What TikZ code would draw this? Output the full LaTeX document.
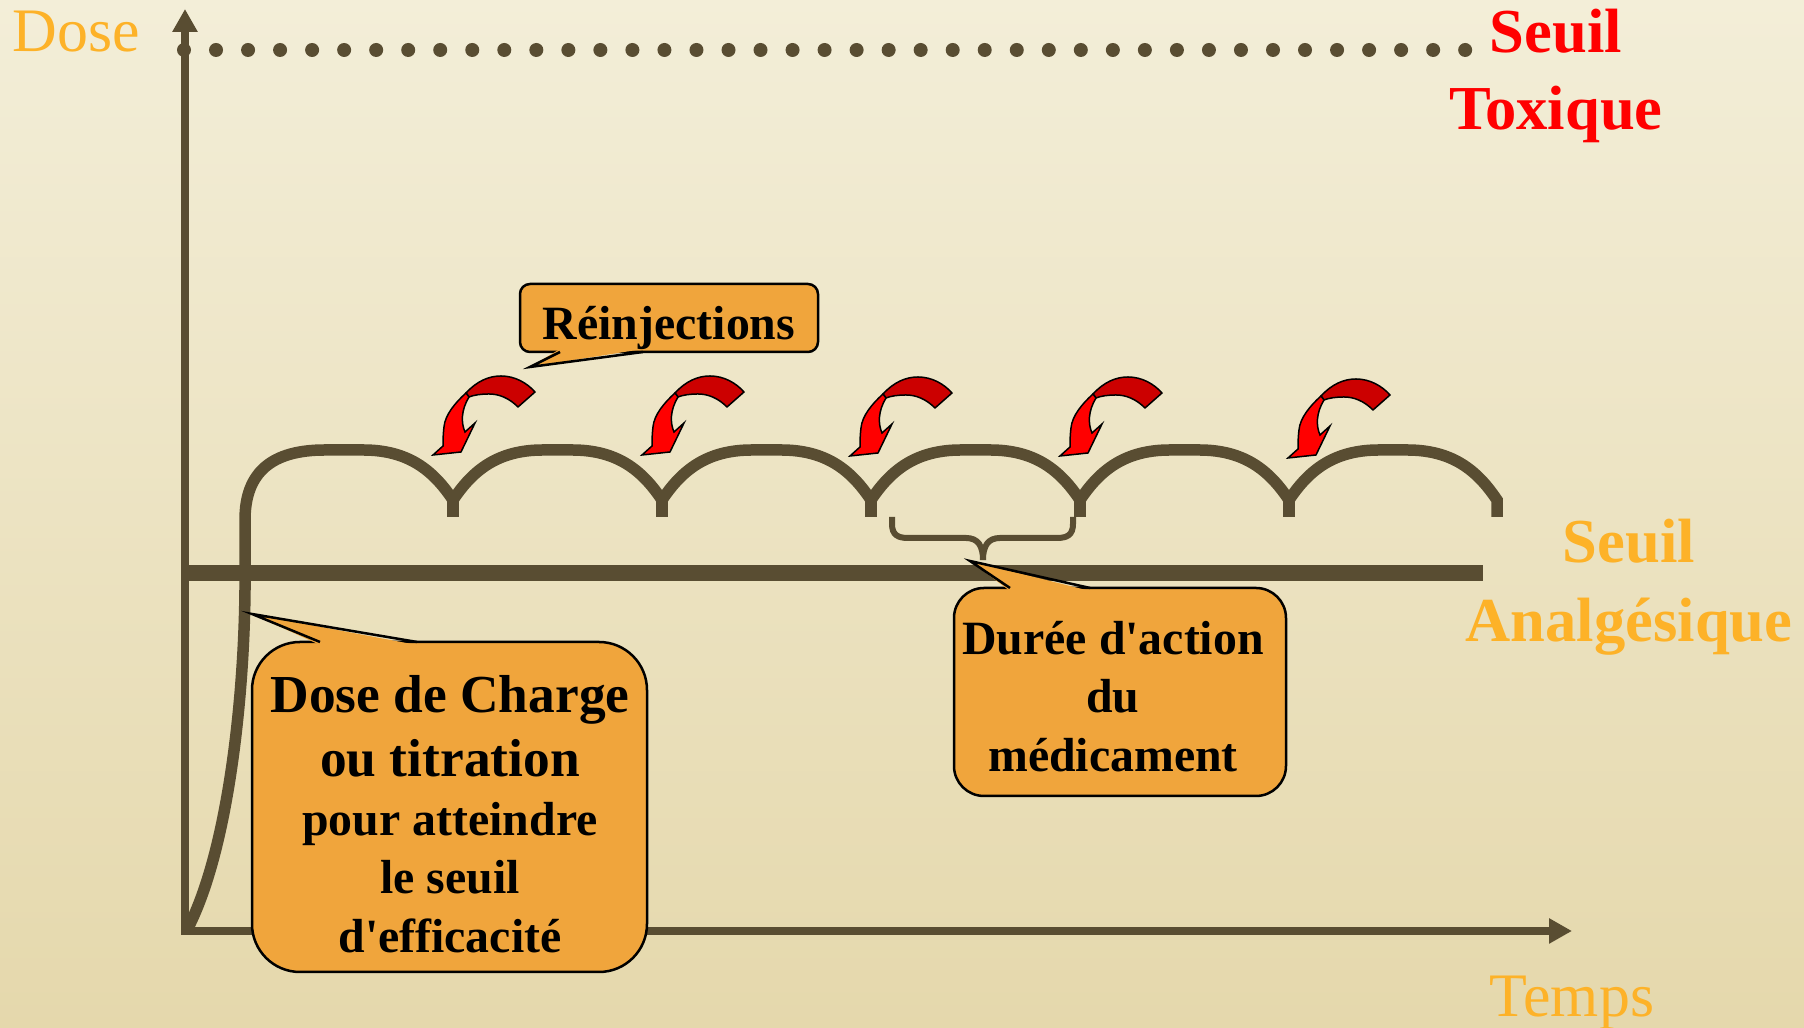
\documentclass[tikz,border=0pt]{standalone}
\usepackage{fontspec}
\setmainfont{Liberation Serif}
\usetikzlibrary{arrows.meta}
\definecolor{bgtop}{RGB}{243,238,216}
\definecolor{bgmid}{RGB}{240,233,206}
\definecolor{bgbot}{RGB}{229,216,172}
\definecolor{ink}{RGB}{89,77,50}
\definecolor{labelorange}{RGB}{253,178,40}
\definecolor{boxorange}{RGB}{240,165,60}
\definecolor{arrowred}{RGB}{255,0,0}
\definecolor{arrowdark}{RGB}{204,0,0}
\definecolor{toxred}{RGB}{255,0,0}
\tikzset{
  axisline/.style={draw=ink, line width=0.8mm, line join=miter},
  doseline/.style={draw=ink, line width=1.15mm, line join=miter},
  calloutbox/.style={draw=black, fill=boxorange, line width=0.25mm, inner sep=0pt},
  tailedge/.style={draw=black, line width=0.25mm, line join=miter},
  boxtext/.style={anchor=base, inner sep=0pt, text=black, font=\fontsize{13.6pt}{16pt}\selectfont\bfseries},
  bigboxtext/.style={anchor=base, inner sep=0pt, text=black, font=\fontsize{15.2pt}{18pt}\selectfont\bfseries},
  outerlabel/.style={inner sep=0pt, text=labelorange, font=\fontsize{17.6pt}{21pt}\selectfont},
  seuillabel/.style={anchor=base, inner sep=0pt, font=\fontsize{17.8pt}{21pt}\selectfont\bfseries},
  redarrowdark/.style={fill=arrowdark, draw=black, line width=0.15mm, line join=round},
  redarrowlight/.style={fill=arrowred, draw=black, line width=0.15mm, line join=miter}
}
\begin{document}
\begin{tikzpicture}[x=0.1mm,y=-0.1mm]
\useasboundingbox (0,0) rectangle (1804,1028);
\shade[top color=bgtop, middle color=bgmid, bottom color=bgbot] (0,0) rectangle (1804,1028);

% axes
\coordinate (ytop) at (185,9);
\coordinate (origin) at (185,931);
\coordinate (xend) at (1572,931);
\draw[axisline, {Triangle[length=2.3mm,width=2.4mm]}-{Triangle[length=2.3mm,width=2.4mm]}] (ytop) -- (origin) -- (xend);

% toxic threshold (dotted)
\coordinate (toxstart) at (184,50);
\coordinate (toxend) at (1466,50);
\draw[ink, line width=1.4mm, line cap=round, dash pattern=on 0mm off 3.203mm] (toxstart) -- (toxend);

% analgesic threshold
\coordinate (seuilL) at (185,573);
\coordinate (seuilR) at (1483,573);
\draw[ink, line width=1.6mm] (seuilL) -- (seuilR);

% dose curve
\foreach \cx in {453,662,871,1080,1289} {
  \draw[doseline] (\cx,497) -- (\cx,517);
}
\draw[doseline] (188,928) .. controls (228,850) and (244,700) .. (245,590) -- (245,520)
  .. controls (245,472) and (272,450) .. (325,450) -- (363,450)
  .. controls (408,450) and (433,470) .. (453,500)
  .. controls (473,470) and (498,450) .. (543,450) -- (572,450)
  .. controls (617,450) and (642,470) .. (662,500)
  .. controls (682,470) and (707,450) .. (752,450) -- (781,450)
  .. controls (826,450) and (851,470) .. (871,500)
  .. controls (891,470) and (916,450) .. (961,450) -- (990,450)
  .. controls (1035,450) and (1060,470) .. (1080,500)
  .. controls (1100,470) and (1125,450) .. (1170,450) -- (1199,450)
  .. controls (1244,450) and (1269,470) .. (1289,500)
  .. controls (1309,470) and (1334,450) .. (1379,450) -- (1407,450)
  .. controls (1452,450) and (1477,470) .. (1497,500) -- (1497,517);

% brace
\draw[ink, line width=0.6mm] (892,517) -- (892,524) .. controls (892,535) and (898,538) .. (908,538) -- (966,538)
  .. controls (978,538) and (983,546) .. (983,560)
  .. controls (983,546) and (988,538) .. (1000,538) -- (1057,538)
  .. controls (1067,538) and (1073,535) .. (1073,524) -- (1073,517);

% red curved arrows
\foreach \ax/\ay in {433/455, 642/455, 850/456, 1060/456, 1288/458} {
  \begin{scope}[shift={(\ax,\ay)}]
    \draw[redarrowdark] (36,-58) -- (33,-62) .. controls (44,-74) and (56,-79) .. (68,-79)
      .. controls (82,-79) and (94,-72) .. (102,-63) -- (85,-48)
      .. controls (76,-57) and (66,-61) .. (56,-61) .. controls (48,-61) and (41,-60) .. (36,-58) -- cycle;
    \draw[redarrowlight] (33,-62) .. controls (22,-52) and (12,-40) .. (11,-28)
      .. controls (10,-20) and (10,-14) .. (10,-9) -- (0,0) -- (28,-3) -- (42,-32) -- (32,-23)
      .. controls (28,-32) and (28,-45) .. (36,-58) -- cycle;
  \end{scope}
}

% callout: Reinjections
\node[calloutbox, rounded corners=1mm, minimum width=29.8mm, minimum height=6.8mm] (reinjbox) at (669,318) {};
\coordinate (reinjtip) at (530,367);
\fill[boxorange] (560,349) -- (reinjtip) -- (643,349) -- cycle;
\draw[tailedge] (560,352) -- (reinjtip) -- (643,352);
\node[boxtext] (reinjtext) at (669,340) {Réinjections};

% callout: Duree d'action
\node[calloutbox, rounded corners=3mm, minimum width=33.2mm, minimum height=20.8mm] (dureebox) at (1120,692) {};
\coordinate (dureetip) at (970,561);
\fill[boxorange] (1010,591) -- (dureetip) -- (1090,591) -- cycle;
\draw[tailedge] (1010,588) -- (dureetip) -- (1090,588);
\node[boxtext] (duree1) at (1113,655) {Durée d\textquotesingle action};
\node[boxtext] (duree2) at (1113,713) {du};
\node[boxtext] (duree3) at (1113,772) {médicament};

% callout: Dose de charge
\node[calloutbox, rounded corners=4.8mm, minimum width=39.5mm, minimum height=33mm] (dosebox) at (449.5,807) {};
\coordinate (dosetip) at (252,614);
\fill[boxorange] (320,645) -- (dosetip) -- (417,645) -- cycle;
\draw[tailedge] (320,642) -- (dosetip) -- (417,642);
\node[bigboxtext] (dose1) at (450,713) {Dose de Charge};
\node[bigboxtext] (dose2) at (450,777) {ou titration};
\node[boxtext] (dose3) at (450,836) {pour atteindre};
\node[boxtext] (dose4) at (450,894) {le seuil};
\node[boxtext] (dose5) at (450,953) {d\textquotesingle efficacité};

% outer labels
\node[outerlabel, anchor=base west] (doselabel) at (12,52) {Dose};
\node[outerlabel, anchor=base] (tempslabel) at (1572,1017) {Temps};
\node[seuillabel, text=toxred] (tox1) at (1556,53) {Seuil};
\node[seuillabel, text=toxred] (tox2) at (1556,130) {Toxique};
\node[seuillabel, text=labelorange] (analg1) at (1629,563) {Seuil};
\node[seuillabel, text=labelorange] (analg2) at (1629,642) {Analgésique};
\end{tikzpicture}
\end{document}
